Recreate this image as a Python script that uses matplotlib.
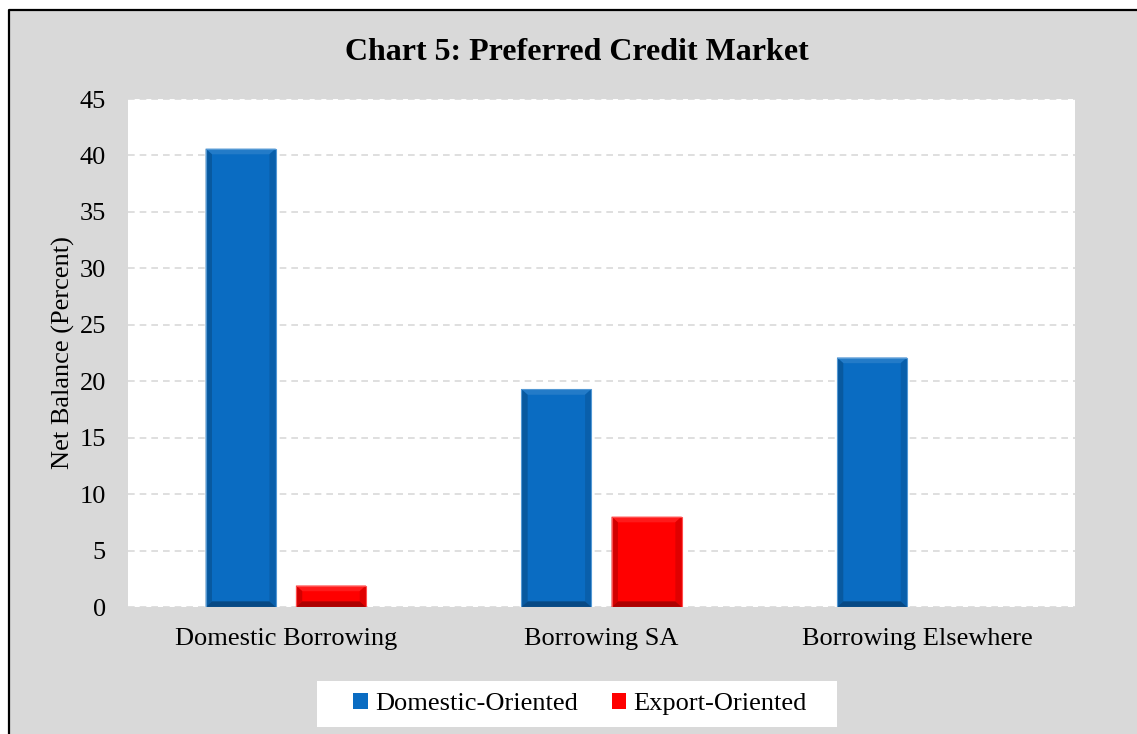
import numpy as np
import matplotlib.pyplot as plt
from matplotlib.patches import Polygon, Rectangle
from matplotlib.lines import Line2D
from matplotlib.colors import to_rgb

# Дані графіка
categories = ["Domestic Borrowing", "Borrowing SA", "Borrowing Elsewhere"]
domestic = [40.6, 19.3, 22.1]
export = [1.9, 8.0, 0.0]
series_names = ["Domestic-Oriented", "Export-Oriented"]
colors = ["#0a6cc2", "#ff0000"]

plt.rcParams["font.family"] = ["Liberation Serif", "DejaVu Serif"]


def shade(c, k):
    r, g, b = to_rgb(c)
    if k < 0:
        return (r * (1 + k), g * (1 + k), b * (1 + k))
    return (r + (1 - r) * k, g + (1 - g) * k, b + (1 - b) * k)


def bevel(ax, bars, color, dx=0.02, dy=0.5):
    # Імітація об'ємного ефекту стовпців
    for rect in bars:
        x, y = rect.get_x(), rect.get_y()
        w, h = rect.get_width(), rect.get_height()
        if h <= 0:
            continue
        by = min(dy, h / 3)
        x1, y1 = x + w, y + h
        parts = [
            ([(x, y1), (x1, y1), (x1 - dx, y1 - by), (x + dx, y1 - by)], shade(color, 0.1)),
            ([(x, y), (x + dx, y + by), (x + dx, y1 - by), (x, y1)], shade(color, -0.18)),
            ([(x1, y), (x1, y1), (x1 - dx, y1 - by), (x1 - dx, y + by)], shade(color, -0.12)),
            ([(x, y), (x1, y), (x1 - dx, y + by), (x + dx, y + by)], shade(color, -0.32)),
        ]
        for pts, c in parts:
            ax.add_patch(Polygon(pts, closed=True, facecolor=c, edgecolor="none", zorder=3))
        ax.add_patch(Rectangle((x, y), w, h, facecolor="none",
                               edgecolor=shade(color, 0.3), linewidth=0.8, zorder=4))


fig = plt.figure(figsize=(11.37, 7.34), dpi=100, facecolor="white")
x0, y0 = 9 / 1137, 1 - 10 / 734
fig.patches.append(Rectangle((x0, 0), 1 - x0, y0, transform=fig.transFigure,
                             facecolor="#d9d9d9", edgecolor="none", zorder=-10))
fig.lines.append(Line2D([x0, x0, 1], [0, y0, y0], transform=fig.transFigure,
                        color="black", linewidth=1.6))
# білий фон легенди
fig.patches.append(Rectangle((317 / 1137, 1 - 727 / 734), 520 / 1137, 46 / 734,
                             transform=fig.transFigure, facecolor="white",
                             edgecolor="none", zorder=-5))

ax = fig.add_axes([128 / 1137, 127 / 734, 947 / 1137, 508 / 734])
ax.set_facecolor("white")

x = np.arange(len(categories))
width = 0.222
offset = 0.143
b1 = ax.bar(x - offset, domestic, width, color=colors[0], label=series_names[0], zorder=2)
b2 = ax.bar(x + offset, export, width, color=colors[1], label=series_names[1], zorder=2)
bevel(ax, b1, colors[0])
bevel(ax, b2, colors[1])

ax.set_xlim(-0.5, 2.5)
ax.set_ylim(0, 45)
ax.set_yticks(range(0, 46, 5))
ax.set_xticks(x)
ax.set_xticklabels(categories)
ax.tick_params(axis="both", length=0, labelsize=19)
ax.tick_params(axis="y", pad=16)
ax.tick_params(axis="x", pad=15)
ax.yaxis.grid(True, color="#d9d9d9", linestyle=(0, (4, 3)), linewidth=1.2, zorder=0)
ax.set_axisbelow(True)
for s in ax.spines.values():
    s.set_visible(False)

ax.set_ylabel("Net Balance (Percent)", fontsize=19, labelpad=3)
fig.text(577 / 1137, 1 - 52 / 734, "Chart 5: Preferred Credit Market",
         fontsize=23, fontweight="bold", ha="center", va="center")

fig.legend(loc="center", bbox_to_anchor=(580 / 1137, 1 - 704 / 734),
           ncol=2, fontsize=19, frameon=False,
           handlelength=0.55, handleheight=0.55, handletextpad=0.27,
           columnspacing=1.3, borderpad=0, borderaxespad=0)

fig.savefig("out.png", dpi=100, facecolor=fig.get_facecolor())
